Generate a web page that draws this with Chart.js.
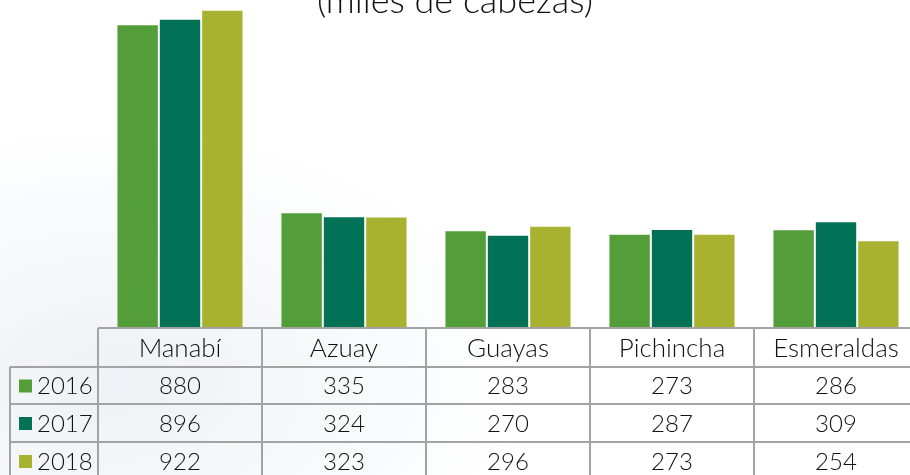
<!DOCTYPE html>
<html>
<head>
<meta charset="utf-8">
<script src="https://cdn.jsdelivr.net/npm/chart.js@4/dist/chart.umd.min.js"></script>
<style>
html, body { margin: 0; padding: 0; overflow: hidden; }
body {
  width: 910px; height: 475px;
  background: radial-gradient(ellipse 420px 260px at 12% 80%, #eef1f5 0%, rgba(255,255,255,0) 100%), #ffffff;
}
#wrap { position: relative; width: 940px; height: 475px; }
</style>
</head>
<body>
<div id="wrap"><canvas id="chart" width="940" height="475"></canvas></div>
<script>
const provinces = ['Manabí', 'Azuay', 'Guayas', 'Pichincha', 'Esmeraldas']
const years = ['2016', '2017', '2018']
const values2016 = [880, 335, 283, 273, 286]
const values2017 = [896, 324, 270, 287, 309]
const values2018 = [922, 323, 296, 273, 254]
const colors = ['#549e3a', '#027256', '#a8b230']
const subtitle = '(miles de cabezas)'

const FONT = 'Lato, "DejaVu Sans", sans-serif'

// subtitle sits at the very top, mostly cut off
const subtitlePlugin = {
  id: 'subtitle',
  afterDraw(chart) {
    const ctx = chart.ctx
    ctx.save()
    ctx.font = `300 36px ${FONT}`
    ctx.fillStyle = '#111'
    ctx.textAlign = 'center'
    ctx.textBaseline = 'alphabetic'
    ctx.fillText(subtitle, 455, 13)
    ctx.restore()
  }
}

// data table under the bars, columns follow the x scale
const tablePlugin = {
  id: 'dataTable',
  afterDraw(chart) {
    const { ctx, chartArea, scales: { x } } = chart
    const colW = (chartArea.right - chartArea.left) / provinces.length
    const top = chartArea.bottom
    const rowY = [top, top + 39, top + 76, top + 114, top + 152]
    const legendLeft = 10
    const series = [values2016, values2017, values2018]

    ctx.save()
    ctx.strokeStyle = '#a3a3a3'
    ctx.lineWidth = 2

    ctx.beginPath()
    ctx.moveTo(chartArea.left, rowY[0])
    ctx.lineTo(chartArea.right, rowY[0])
    for (let r = 1; r < rowY.length; r++) {
      ctx.moveTo(legendLeft, rowY[r])
      ctx.lineTo(chartArea.right, rowY[r])
    }
    ctx.moveTo(legendLeft, rowY[1])
    ctx.lineTo(legendLeft, rowY[4])
    for (let i = 0; i <= provinces.length; i++) {
      const xx = chartArea.left + i * colW
      ctx.moveTo(xx, rowY[0])
      ctx.lineTo(xx, rowY[4])
    }
    ctx.stroke()

    ctx.fillStyle = '#111'
    ctx.textAlign = 'center'
    ctx.textBaseline = 'middle'
    ctx.font = `300 26px ${FONT}`
    provinces.forEach((p, i) => {
      ctx.fillText(p, x.getPixelForValue(i), (rowY[0] + rowY[1]) / 2 + 1)
    })

    ctx.font = `300 24px ${FONT}`
    series.forEach((vals, s) => {
      const cy = (rowY[s + 1] + rowY[s + 2]) / 2 + 1
      vals.forEach((v, i) => {
        ctx.textAlign = 'center'
        ctx.fillText(String(v), x.getPixelForValue(i), cy)
      })
      ctx.fillStyle = colors[s]
      ctx.fillRect(19, cy - 7, 13, 13)
      ctx.fillStyle = '#111'
      ctx.textAlign = 'left'
      ctx.fillText(years[s], 37, cy)
    })
    ctx.restore()
  }
}

const datasets = [values2016, values2017, values2018].map((vals, i) => ({
  label: years[i],
  data: vals,
  backgroundColor: colors[i],
  borderColor: 'rgba(255,255,255,0.35)',
  borderWidth: { top: 1, left: 1, right: 1, bottom: 0 },
  borderSkipped: 'bottom',
  barPercentage: 1,
  categoryPercentage: 0.775
}))

new Chart(document.getElementById('chart'), {
  type: 'bar',
  data: { labels: provinces, datasets },
  options: {
    responsive: false,
    animation: false,
    layout: { padding: { left: 98, right: 22, top: 0, bottom: 147 } },
    scales: {
      x: { display: false },
      y: { display: false, min: 0, max: 950 }
    },
    plugins: {
      legend: { display: false },
      tooltip: { enabled: false }
    }
  },
  plugins: [subtitlePlugin, tablePlugin]
})
</script>
</body>
</html>
